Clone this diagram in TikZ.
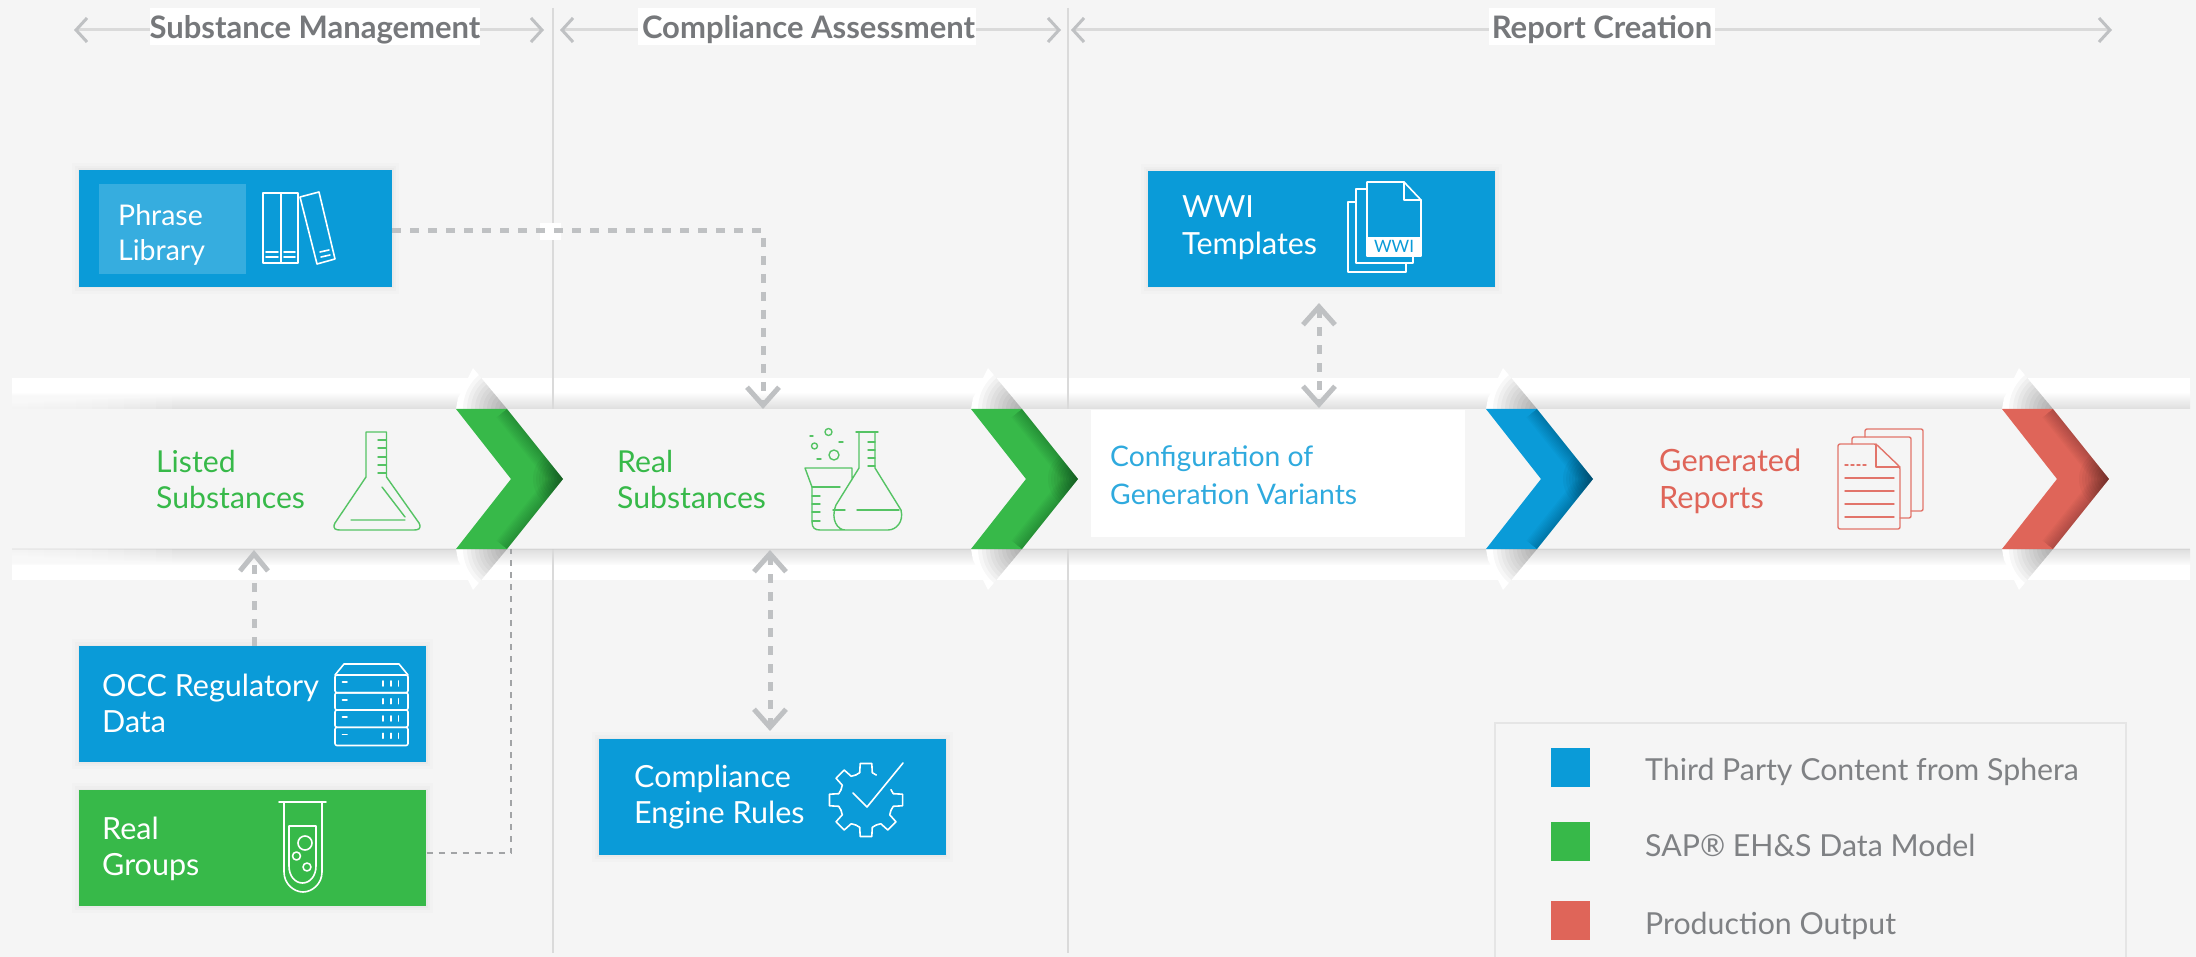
\documentclass[tikz,border=0pt]{standalone}
\usepackage{fontspec}
\setmainfont{Lato}
\usetikzlibrary{arrows.meta}
\definecolor{bgc}{HTML}{F5F5F5}
\definecolor{sblue}{HTML}{0A9BD8}
\definecolor{sgreen}{HTML}{37B949}
\definecolor{sred}{HTML}{DF6559}
\definecolor{txtgray}{HTML}{7F8184}
\definecolor{headgray}{HTML}{76787B}
\definecolor{conng}{HTML}{BFC1C3}
\definecolor{rule}{HTML}{DADADA}
\newcommand\fs[2]{\fontsize{#1}{#2}\selectfont}
\tikzset{
  x=1pt,y=-1pt,
  softshadow/.style={preaction={draw=black,opacity=.012,line width=14pt},preaction={draw=black,opacity=.015,line width=8pt},preaction={draw=black,opacity=.02,line width=3pt}},
  card/.style={rectangle,minimum width=#1,minimum height=116pt,inner sep=0pt,softshadow},
  bluecard/.style={card=347pt,fill=sblue},
  greencard/.style={card=347pt,fill=sgreen},
  cardtext/.style={anchor=west,inner sep=0pt,align=left,text=white,font=\fs{30.5}{36}},
  bandtext/.style={anchor=west,inner sep=0pt,align=left,font=\fs{30.2}{36}},
  legendtext/.style={anchor=west,inner sep=0pt,text=txtgray,font=\fs{30.3}{34}},
  legendkey/.style={rectangle,minimum width=39pt,minimum height=39pt,inner sep=0pt},
  headtext/.style={rectangle,fill=white,inner sep=0pt,text height=31pt,text depth=6pt,text=headgray,font=\bfseries\fs{31}{34}},
  headline/.style={draw=rule,line width=3pt,{Straight Barb[length=11pt,width=24pt,line width=3pt,color=conng]}-{Straight Barb[length=11pt,width=24pt,line width=3pt,color=conng]}},
  sep/.style={draw=rule,line width=1.2pt},
  thick conn/.style={draw=conng,line width=5pt,dash pattern=on 9pt off 9pt},
  thin conn/.style={draw=conng!85!black,line width=2pt,dash pattern=on 6pt off 6pt},
  openbarb/.tip={Straight Barb[length=18pt,width=32pt,line width=5pt]},
  wicon/.style={draw=white,line width=1.6pt,line join=round,line cap=round},
  gicon/.style={draw=sgreen!85!white,line width=1.4pt,line join=round,line cap=round},
  ricon/.style={draw=sred!90!white,line width=1.4pt,line join=round,line cap=round},
}
\newcommand\chevmark[2]{%
  \begin{scope}
    \clip (#1,409)--(#1+51,409)--(#1+107,479)--(#1+51,549)--(#1,549)--(#1+55,479)--cycle;
    \fill[#2] (#1-5,405) rectangle (#1+112,553);
    \foreach \w in {3,6,...,27}
      \draw[black,opacity=.024,line width=\w pt] (#1+51,409)--(#1+107,479)--(#1+51,549);
    \foreach \r in {3,6,...,30}
      \fill[black,opacity=.035] (#1+107,479) circle (\r pt);
  \end{scope}}
% fold above or below the band: #1 left x, #2 band edge y, #3 peak y, #4 shoulder y
\newcommand\foldflap[4]{%
  \begin{scope}
    \clip (#1,#2)--(#1+2,#4)--(#1+17,#3)--(#1+51,#2)--cycle;
    \fill[white] (#1-2,#3) rectangle (#1+53,#2);
    \foreach \r in {4,8,...,44}
      \fill[black,opacity=.032] (#1+51,#2) circle (\r pt);
  \end{scope}}
\begin{document}
\begin{tikzpicture}
\useasboundingbox (0,0) rectangle (2196,957);
\clip (0,0) rectangle (2196,957);
\fill[bgc] (0,0) rectangle (2196,957);

% band strips
\fill[white] (12,378) rectangle (2190,393);
\shade[top color=white,bottom color=black!13] (12,392) rectangle (2190,409);
\shade[top color=black!13,bottom color=white] (12,549) rectangle (2190,566);
\fill[white] (12,565) rectangle (2190,580);
\foreach \i in {1,...,10}{
  \fill[white,opacity=.13] (12,392) rectangle (12+\i*16,409);
  \fill[white,opacity=.13] (12,549) rectangle (12+\i*16,566);
}
% folded flaps
\foreach \x in {456,971,1486,2002}{
  \foldflap{\x}{409}{368}{398}
  \foldflap{\x}{549}{590}{560}
}
% separators
\coordinate (sepAt) at (553,8);
\coordinate (sepAb) at (553,953);
\coordinate (sepBt) at (1068,8);
\coordinate (sepBb) at (1068,953);
\draw[sep] (sepAt)--(sepAb);
\draw[sep] (sepBt)--(sepBb);

% middle band
\fill[bgc] (0,409) rectangle (2196,549);
\fill[black,opacity=.04] (12,547.5) rectangle (2190,549.5);

% headers
\coordinate (h1l) at (74,30); \coordinate (h1r) at (544,30);
\coordinate (h2l) at (560,30); \coordinate (h2r) at (1061,30);
\coordinate (h3l) at (1071,30); \coordinate (h3r) at (2112,30);
\draw[headline] (h1l)--(h1r);
\draw[headline] (h2l)--(h2r);
\draw[headline] (h3l)--(h3r);
\node[headtext,minimum width=324pt] (headA) at (315,26.5) {Substance Management};
\node[headtext,minimum width=338pt] (headB) at (807,26.5) {\hspace*{3pt}Compliance Assessment};
\node[headtext,minimum width=226pt] (headC) at (1602,26.5) {Report Creation};

% white box
\node[rectangle,fill=white,minimum width=374pt,minimum height=127pt,inner sep=0pt] (configbox) at (1278,473.5) {};

% chevrons
\chevmark{456}{sgreen}
\chevmark{971}{sgreen}
\chevmark{1486}{sblue}
\chevmark{2002}{sred}

% band text
\node[bandtext,text=sgreen] (listed) at (156,479.5) {Listed\\Substances};
\node[bandtext,text=sgreen] (realsub) at (617,479.5) {Real\\Substances};
\node[bandtext,text=sblue!85!white,font=\fs{28.3}{38}] (configtext) at (1110,475) {Configuration of\\Generation Variants};
\node[bandtext,text=sred,font=\fs{30.7}{36.5}] (generated) at (1659,481.5) {Generated\\Reports};

% cards
\node[bluecard,minimum width=313pt,minimum height=117pt] (phrase) at (235.5,228.5) {};
\fill[white,opacity=.18] (99,184) rectangle (246,274);
\node[cardtext,font=\fs{28.5}{34.5}] (phrasetext) at (118,235) {Phrase\\Library};
\node[bluecard] (wwi) at (1321,229) {};
\node[cardtext,font=\fs{30.5}{37}] (wwitext) at (1182,228) {WWI\\Templates};
\node[bluecard] (occ) at (252.5,704) {};
\node[cardtext] (occtext) at (102,703) {OCC Regulatory\\Data};
\node[greencard] (groups) at (252.5,848) {};
\node[cardtext] (groupstext) at (102,849) {Real\\Groups};
\node[bluecard] (engine) at (772,797) {};
\node[cardtext] (enginetext) at (634,797) {Compliance\\Engine Rules};

% connectors
\coordinate (realtop) at (763,409);
\coordinate (realbot) at (770,550);
\coordinate (listedbot) at (254,550);
\coordinate (enginetop) at (770,731);
\coordinate (wwibot) at (1319,303);
\coordinate (configtop) at (1319,408);
\coordinate (chevbot) at (511,549);
\coordinate (occtop) at (254,646);
\coordinate (groupsout) at (426.5,853);
\coordinate (phraseout) at (392,231);
\fill[white] (540,223) rectangle (561,240);
\draw[thick conn,-{openbarb}] (phraseout) -| (realtop);
\draw[thick conn,-{Straight Barb[length=17pt,width=28pt,line width=5pt]}] (occtop)--(listedbot);
\draw[thick conn,{openbarb}-{openbarb}] (realbot)--(enginetop);
\draw[thick conn,{openbarb}-{openbarb}] (wwibot)--(configtop);
\draw[thin conn] (groupsout) -| (chevbot);

% book icon
\draw[wicon] (263,193) rectangle (281,263) (281,193) rectangle (298,263);
\draw[wicon] (300,197)--(319,192)--(335,259)--(317,264)--cycle;
\draw[wicon] (266,252)--(278,252) (266,257)--(278,257) (284,252)--(295,252) (284,257)--(295,257);
\draw[wicon] (320,252)--(329,250) (321,257)--(330,255);

% WWI icon
\draw[wicon] (1367,182)--(1404,182)--(1421,200)--(1421,256)--(1367,256)--cycle;
\draw[wicon] (1404,182)--(1404,200)--(1421,200);
\draw[wicon] (1367,189)--(1356,189)--(1356,263)--(1413,263)--(1413,256);
\draw[wicon] (1356,202)--(1348,202)--(1348,272)--(1406,272)--(1406,263);
\node[rectangle,fill=white,minimum width=54pt,minimum height=19pt,inner sep=0pt,text=sblue,font=\fs{17}{17}] (wwilabel) at (1394,246.5) {WWI};

% server icon
\draw[wicon] (335,675)--(344,664)--(399,664)--(408,675);
\foreach \t/\b in {675/692.7,692.7/710,710/727.3,727.3/745.5}{
  \draw[wicon,rounded corners=2pt] (335,\t) rectangle (408,\b);
  \draw[wicon] (342.5,\t+7)--(347,\t+7);
  \draw[wicon] (383,\t+6)--(383,\t+11) (391,\t+6)--(391,\t+11) (398.5,\t+6)--(398.5,\t+11);
}

% test tube icon
\draw[wicon] (279,802)--(326,802);
\draw[wicon] (284,802)--(284,872) .. controls (284,884) and (294,892) .. (303,892) .. controls (312,892) and (322,884) .. (322,872)--(322,802);
\draw[wicon] (289,826)--(316,826)--(316,866) .. controls (316,876) and (310,883) .. (302.5,883) .. controls (295,883) and (289,876) .. (289,866)--cycle;
\draw[wicon] (305,843) circle (7pt) (296.5,856) circle (4pt) (307,867) circle (4pt);

% gear icon
\begin{scope}[shift={(866,800)}]
  \foreach \a in {0,45,90,135,180,225,270}
    \draw[wicon] (\a-22.5:27)--(\a-13:28)--(\a-9:37)--(\a+9:37)--(\a+13:28)--(\a+22.5:27);
\end{scope}
\draw[wicon] (853,793)--(867,807)--(903,763);

% flask icon
\draw[gicon] (366,432)--(386.5,432) (366,432)--(366,477)--(335,523) .. controls (332,529) and (336,530) .. (340,530)--(414,530) .. controls (418,530) and (422,529) .. (419,523)--(386.5,477)--(386.5,432);
\draw[gicon] (382,487)--(405,517) (351,520)--(405,520);
\foreach \y in {440,448,457,465,473} \draw[gicon] (378,\y)--(386,\y);

% substances icon
\draw[gicon] (805,468)--(852,468) (805,468)--(812,487)--(812,522) .. controls (812,528) and (815,530) .. (820,530)--(888,530) .. controls (896,530) and (904,522) .. (901,510)--(875,468)--(875,432) (859,432)--(859,468)--(836,505) .. controls (830,520) and (838,530) .. (845,530) (852,468)--(852,480);
\draw[gicon] (856,432)--(878,432);
\draw[gicon] (812,487)--(840,487) (857,510)--(899,510) (833,510)--(845,510);
\foreach \y in {496,504,512,521} \draw[gicon] (812,\y)--(820,\y);
\foreach \y in {442,450,458,466} \draw[gicon] (868,\y)--(875,\y);
\draw[gicon] (828.5,432) circle (3.5pt) (814.5,446) circle (3pt) (834,455) circle (5pt);
\draw[gicon] (810,436)--(813,436) (839,442)--(843,442) (817,459)--(821,459);

% report icon
\draw[ricon,rounded corners=2pt] (1876,444)--(1838,444)--(1838,529)--(1900,529)--(1900,467)--cycle;
\draw[ricon] (1876,444)--(1876,467)--(1900,467);
\draw[ricon,rounded corners=2pt] (1852,444)--(1852,437)--(1911,437)--(1911,518)--(1900,518);
\draw[ricon,rounded corners=2pt] (1865,437)--(1865,429)--(1923,429)--(1923,511)--(1911,511);
\draw[ricon,dash pattern=on 3pt off 3pt] (1845,465)--(1869,465);
\foreach \y in {478,491,504,517} \draw[ricon] (1845,\y)--(1894,\y);

% legend
\draw[draw=black!10,line width=2pt] (1495,723) rectangle (2126,975);
\node[legendkey,fill=sblue] (keyblue) at (1570.5,767.5) {};
\node[legendkey,fill=sgreen] (keygreen) at (1570.5,841.5) {};
\node[legendkey,fill=sred] (keyred) at (1570.5,920.5) {};
\node[legendtext] (legA) at (1645,771.5) {Third Party Content from Sphera};
\node[legendtext] (legB) at (1645,845.5) {SAP® EH\&S Data Model};
\node[legendtext] (legC) at (1645,925.5) {Production Output};
\end{tikzpicture}
\end{document}
